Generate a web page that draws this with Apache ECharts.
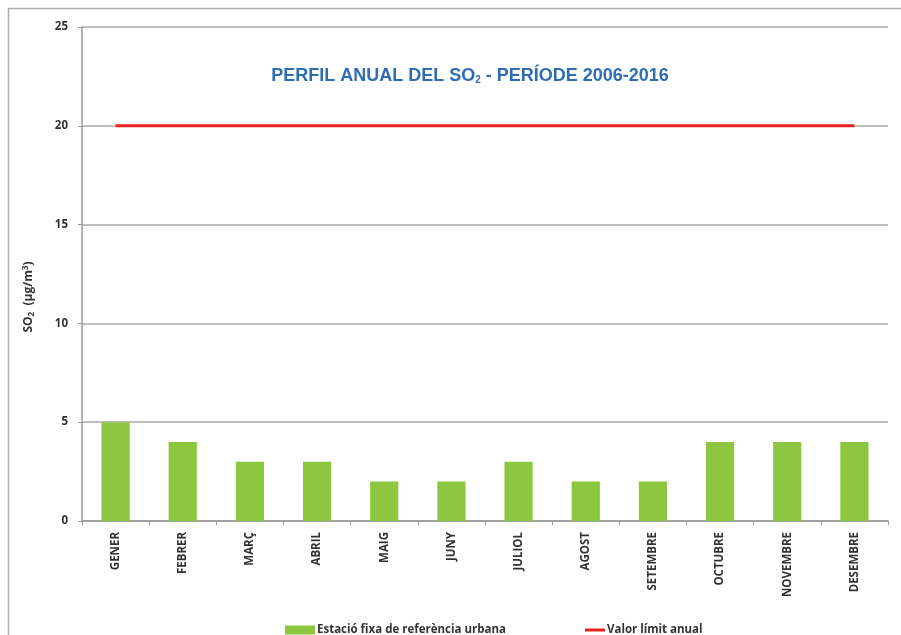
<!DOCTYPE html>
<html><head><meta charset="utf-8">
<script src="https://cdn.jsdelivr.net/npm/echarts@6/dist/echarts.min.js"></script>
<style>html,body{margin:0;padding:0;background:#fff}#c{width:901px;height:635px}</style>
</head><body><div id="c"></div>
<script>
const months = ['GENER','FEBRER','MARÇ','ABRIL','MAIG','JUNY','JULIOL','AGOST','SETEMBRE','OCTUBRE','NOVEMBRE','DESEMBRE'];
const so2Values = [5,4,3,3,2,2,3,2,2,4,4,4];
const limitValues = [20,20,20,20,20,20,20,20,20,20,20,20];
const yTicks = [0,5,10,15,20,25];
const barName = 'Estació fixa de referència urbana';
const lineName = 'Valor límit anual';

const chart = echarts.init(document.getElementById('c'));
const font = '"Open Sans", sans-serif';
const tfont = '"Liberation Sans", Arial, sans-serif';
chart.setOption({
  animation:false,
  title:{
    text:'{a|PERFIL ANUAL DEL SO}{s|2}{a| - PERÍODE 2006-2016}',
    left:465, top:62, textAlign:'center',
    textStyle:{rich:{
      a:{fontFamily:tfont,fontWeight:'bold',fontSize:18,color:'#2f6cb8'},
      s:{fontFamily:tfont,fontWeight:'bold',fontSize:10,color:'#2f6cb8',verticalAlign:'bottom',padding:[8,0,0,0]}
    }}
  },
  graphic:[{type:'rect',shape:{x:8.5,y:8.5,width:895,height:640},style:{fill:null,stroke:'#b0b0b0',lineWidth:1.5},silent:true,z:-1}],
  grid:{left:82,right:13,top:27,bottom:114},
  legend:[
    {data:[barName],left:280,top:619,itemWidth:30,itemHeight:9,icon:'rect',itemGap:2,textStyle:{fontFamily:font,fontWeight:'bold',fontSize:11.5,color:'#333',padding:[0,0,0,-3]}},
    {data:[lineName],left:580,top:619,itemWidth:20,itemHeight:3,icon:'rect',textStyle:{fontFamily:font,fontWeight:'bold',fontSize:11.5,color:'#333',padding:[0,0,0,-3]}}
  ],
  xAxis:{
    type:'category',data:months,
    axisLine:{lineStyle:{color:'#999',width:1.5}},
    axisTick:{show:true,length:4,lineStyle:{color:'#999'}},
    axisLabel:{rotate:90,margin:11,fontFamily:font,fontWeight:'bold',fontSize:11.5,color:'#333',interval:0}
  },
  yAxis:{
    type:'value',min:yTicks[0],max:yTicks[yTicks.length-1],interval:5,
    name:'{a|SO}{s|2}{a|  (µg/m}{p|3}{a|)}',
    nameLocation:'middle',nameGap:46,
    nameTextStyle:{padding:[0,46,0,0],rich:{
      a:{fontFamily:font,fontWeight:'bold',fontSize:12,color:'#333'},
      s:{fontFamily:font,fontWeight:'bold',fontSize:8,color:'#333',verticalAlign:'bottom',padding:[6,0,0,0]},
      p:{fontFamily:font,fontWeight:'bold',fontSize:8,color:'#333',verticalAlign:'top',padding:[0,0,6,0]}
    }},
    axisLine:{show:true,lineStyle:{color:'#999',width:1.5}},
    axisTick:{show:true,length:4,lineStyle:{color:'#999'}},
    axisLabel:{margin:14,fontFamily:font,fontWeight:'bold',fontSize:11.5,color:'#333'},
    splitLine:{lineStyle:{color:'#aaa',width:1.5}}
  },
  series:[
    {name:barName,type:'bar',data:so2Values,barWidth:'42%',itemStyle:{color:'#8dc63f'}},
    {name:lineName,type:'line',data:limitValues,symbol:'none',lineStyle:{color:'#e8231f',width:3},itemStyle:{color:'#e8231f'}}
  ]
});
</script></body></html>
